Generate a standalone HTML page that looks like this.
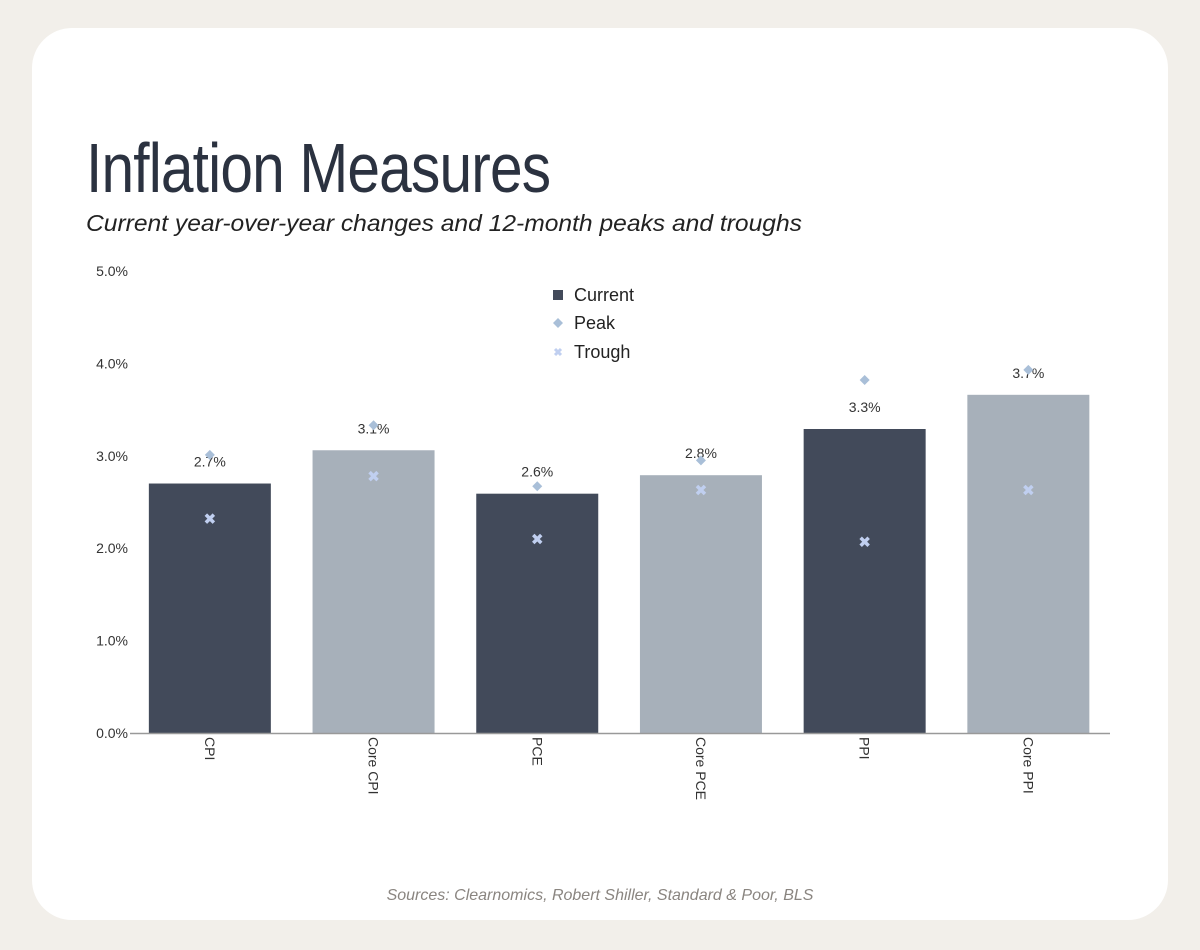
<!DOCTYPE html>
<html><head><meta charset="utf-8"><style>
html,body{margin:0;padding:0;}
body{width:1200px;height:950px;background:#f2efea;position:relative;overflow:hidden;font-family:"Liberation Sans",sans-serif;}
.card{position:absolute;left:32px;top:28px;width:1136px;height:892px;background:#fff;border-radius:40px;}
h1{position:absolute;left:86px;top:128px;margin:0;font-family:"Liberation Sans Narrow","Liberation Sans",sans-serif;font-weight:400;font-size:70px;color:#2b3240;letter-spacing:-1px;transform:scaleX(0.838);transform-origin:left top;line-height:80px;white-space:nowrap;}
.sub{position:absolute;left:86px;top:210px;font-style:italic;font-size:23px;color:#222;transform:scaleX(1.07);transform-origin:left top;white-space:nowrap;}
.src{position:absolute;left:0;width:1200px;top:887px;text-align:center;font-style:italic;font-size:16px;color:#8a8580;}
svg{position:absolute;left:0;top:0;}
</style></head><body>
<div class="card"></div>
<h1>Inflation Measures</h1>
<div class="sub">Current year-over-year changes and 12-month peaks and troughs</div>
<div class="src">Sources: Clearnomics, Robert Shiller, Standard &amp; Poor, BLS</div>
<svg id="chart" width="1200" height="950"></svg>
<script>
const categories=["CPI","Core CPI","PCE","Core PCE","PPI","Core PPI"];
const currentValues=[2.7,3.06,2.59,2.79,3.29,3.66];
const peakValues=[3.01,3.33,2.67,2.95,3.82,3.93];
const troughValues=[2.32,2.78,2.10,2.63,2.07,2.63];
const valueLabels=["2.7%","3.1%","2.6%","2.8%","3.3%","3.7%"];
const yTicks=[0,1,2,3,4,5];
const yTickLabels=["0.0%","1.0%","2.0%","3.0%","4.0%","5.0%"];

const NS="http://www.w3.org/2000/svg";
const svg=document.getElementById('chart');
const y0=733,yPer=92.4,xStart=128,band=163.7,barW=122;
const y=v=>y0-v*yPer;
const xc=i=>xStart+band*i+band/2;
function mk(t,a,txt){const e=document.createElementNS(NS,t);for(const k in a)e.setAttribute(k,a[k]);if(txt!=null)e.textContent=txt;svg.appendChild(e);return e;}

yTicks.forEach((t,i)=>{
  const e=mk('text',{x:128,y:y(t)+5,'text-anchor':'end','font-size':14,fill:'#333'},yTickLabels[i]);
  
  
});
categories.forEach((c,i)=>{
  const b=mk('rect',{x:xc(i)-barW/2,y:y(currentValues[i]),width:barW,height:currentValues[i]*yPer,fill:i%2?'#a7b0ba':'#424a5a'});
  
  
  const l=mk('text',{x:xc(i),y:y(currentValues[i])-17,'text-anchor':'middle','font-size':14,fill:'#333'},valueLabels[i]);
  
  
  const px=xc(i),py=y(peakValues[i]);
  const p=mk('path',{d:`M${px} ${py-5}L${px+5} ${py}L${px} ${py+5}L${px-5} ${py}Z`,fill:'#a9bfd8'});
  
  
  const ty=y(troughValues[i]);
  const tr=mk('path',{d:`M${px-4} ${ty-4}L${px+4} ${ty+4}M${px+4} ${ty-4}L${px-4} ${ty+4}`,stroke:'#c0cff0','stroke-width':3.5});
  
  
  const cl=mk('text',{transform:`translate(${px-5},${y0+4}) rotate(90)`,'font-size':14,fill:'#333'},c);
  
  
});
const ax=mk('line',{x1:130,x2:1110,y1:y0+.5,y2:y0+.5,stroke:'#999','stroke-width':1.5});



const lg=[['Current',295],['Peak',323],['Trough',352]];
mk('rect',{x:553,y:290,width:10,height:10,fill:'#424a5a'});
mk('path',{d:'M558 318L563 323L558 328L553 323Z',fill:'#a9bfd8'});
mk('path',{d:'M555 349L561 355M561 349L555 355',stroke:'#c0cff0','stroke-width':3});
lg.forEach(([t,yy])=>{
  const e=mk('text',{x:574,y:yy+6,'font-size':18,fill:'#222'},t);
  
  
});
</script>
</body></html>
